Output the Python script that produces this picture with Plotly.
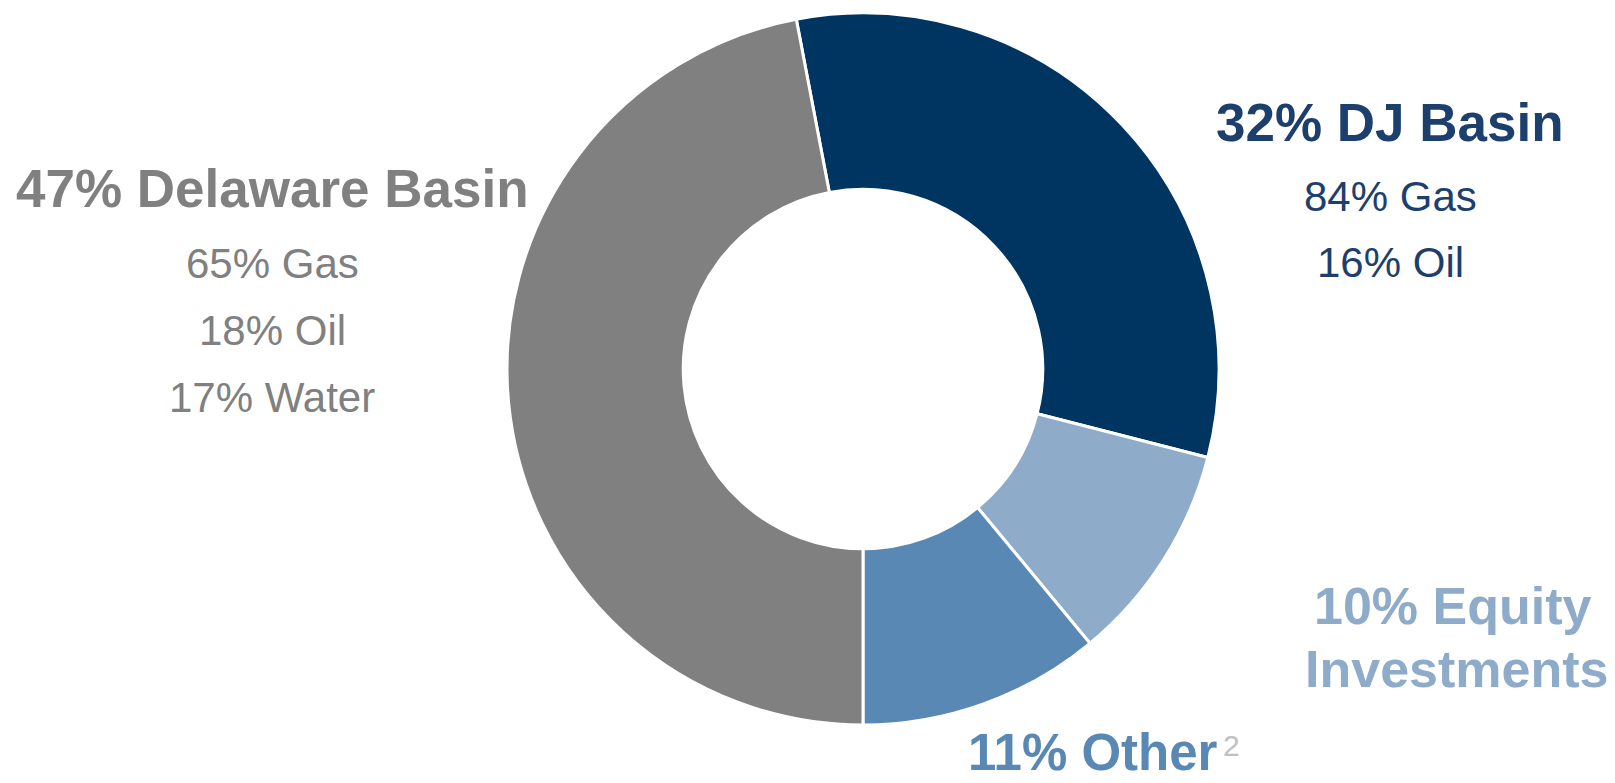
import plotly.graph_objects as go

# Segment shares (percent), listed clockwise from the DJ Basin wedge
segments = ["DJ Basin", "Equity Investments", "Other", "Delaware Basin"]
shares = [32, 10, 11, 47]
colors = ["#003461", "#8eabc9", "#5888b3", "#808080"]

# Product mix under each basin heading
dj_mix = ["84% Gas", "16% Oil"]
delaware_mix = ["65% Gas", "18% Oil", "17% Water"]

W, H = 1615, 783
FONT = "Arial, 'Liberation Sans', sans-serif"


def px(x):
    return x / W


def py(y):
    return 1 - y / H


fig = go.Figure(
    go.Pie(
        labels=segments,
        values=shares,
        sort=False,
        direction="clockwise",
        rotation=-10.8,
        hole=0.505,
        marker=dict(colors=colors, line=dict(color="white", width=3)),
        textinfo="none",
        hoverinfo="label+percent",
        domain=dict(x=[px(863 - 356), px(863 + 356)], y=[py(725), py(13)]),
        showlegend=False,
    )
)

annotations = []


def add(text, x, y, size, color, bold=False, yanchor="middle"):
    annotations.append(
        dict(
            text=f"<b>{text}</b>" if bold else text,
            x=px(x), y=py(y), xref="paper", yref="paper",
            xanchor="center", yanchor=yanchor, showarrow=False,
            font=dict(family=FONT, size=size, color=color),
        )
    )


# Delaware Basin block
add(f"{shares[3]}% {segments[3]}", 272, 188.5, 53, colors[3], bold=True)
for line, yy in zip(delaware_mix, [263, 331, 397]):
    add(line, 272, yy, 42, colors[3])

# DJ Basin block
dj_text = "#1d3f6e"
add(f"{shares[0]}% {segments[0]}", 1390, 122.5, 53, dj_text, bold=True)
for line, yy in zip(dj_mix, [196, 262.5]):
    add(line, 1390, yy, 42, dj_text)

# Equity Investments block (two lines)
add(f"{shares[1]}% Equity", 1452, 605.5, 52, colors[1], bold=True)
add("Investments", 1456, 669, 52, colors[1], bold=True)

# Other block, sitting on the bottom edge, with footnote marker
add(f"{shares[2]}% {segments[2]}", 1092.5, H, 51, colors[2], bold=True,
    yanchor="bottom")
annotations.append(
    dict(
        text="2", x=px(1221), y=py(745), xref="paper", yref="paper",
        xanchor="left", yanchor="middle", showarrow=False,
        font=dict(family=FONT, size=30, color="#c0c0c0"),
    )
)

fig.update_layout(
    width=W, height=H,
    margin=dict(l=0, r=0, t=0, b=0),
    paper_bgcolor="white", plot_bgcolor="white",
    annotations=annotations,
)

fig.write_html("out.html")
